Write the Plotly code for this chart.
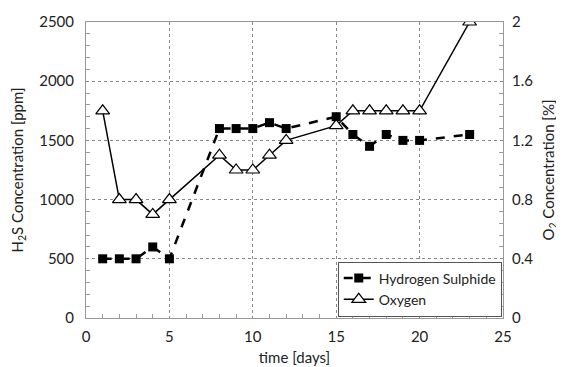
import plotly.graph_objects as go

days_h2s = [1, 2, 3, 4, 5, 8, 9, 10, 11, 12, 15, 16, 17, 18, 19, 20, 23]
h2s_ppm = [500, 500, 500, 600, 500, 1600, 1600, 1600, 1650, 1600, 1700, 1550, 1450, 1550, 1500, 1500, 1550]

days_o2 = [1, 2, 3, 4, 5, 8, 9, 10, 11, 12, 15, 16, 17, 18, 19, 20, 23]
o2_pct = [1.4, 0.8, 0.8, 0.7, 0.8, 1.1, 1.0, 1.0, 1.1, 1.2, 1.3, 1.4, 1.4, 1.4, 1.4, 1.4, 2.0]

FONT = "Lato"

fig = go.Figure()
fig.add_trace(go.Scatter(
    x=days_h2s, y=h2s_ppm, name="Hydrogen Sulphide", mode="lines+markers",
    line=dict(color="black", width=2.5, dash="dash"),
    marker=dict(symbol="square", size=9, color="black"),
    yaxis="y"))
fig.add_trace(go.Scatter(
    x=days_o2, y=o2_pct, name="Oxygen", mode="lines+markers",
    line=dict(color="black", width=1.5),
    marker=dict(symbol="triangle-up", size=12, color="white", line=dict(color="black", width=1.2)),
    yaxis="y2"))

grid = dict(showgrid=True, gridcolor="#888888", griddash="dot", gridwidth=1)
fig.update_layout(
    width=556, height=359,
    margin=dict(l=78, r=61, t=14, b=49, autoexpand=False),
    paper_bgcolor="white", plot_bgcolor="white",
    font=dict(family=FONT, size=15, color="#222222"),
    showlegend=True,
    legend=dict(x=0.997, y=0.005, xanchor="right", yanchor="bottom",
                bordercolor="#555555", borderwidth=1, bgcolor="white",
                font=dict(family=FONT, size=14), tracegroupgap=0, itemwidth=30),
    xaxis=dict(range=[0, 25], dtick=5, tick0=0, zeroline=False, showline=True, linecolor="#999999",
               mirror=True, ticks="", ticklabelstandoff=5, automargin=False, **grid,
               minor=dict(dtick=1, ticks="inside", ticklen=4, tickcolor="#999999", showgrid=False),
               title=dict(text="time [days]", standoff=8, font=dict(size=15))),
    yaxis=dict(range=[0, 2500], dtick=500, zeroline=False, showline=True, linecolor="#999999",
               mirror=True, ticks="", ticklabelstandoff=8, automargin=False, **grid,
               minor=dict(dtick=100, ticks="inside", ticklen=4, tickcolor="#999999", showgrid=False),
               title=dict(text="H<sub>2</sub>S Concentration [ppm]", standoff=14, font=dict(size=15))),
    yaxis2=dict(range=[0, 2], dtick=0.4, overlaying="y", side="right", showgrid=False,
                zeroline=False, showline=False, ticks="", ticklabelstandoff=8, automargin=False,
                minor=dict(dtick=0.08, ticks="inside", ticklen=4, tickcolor="#999999"),
                title=dict(text="O<sub>2</sub> Concentration [%]", standoff=11, font=dict(size=15))),
)
fig.write_html("out.html")
